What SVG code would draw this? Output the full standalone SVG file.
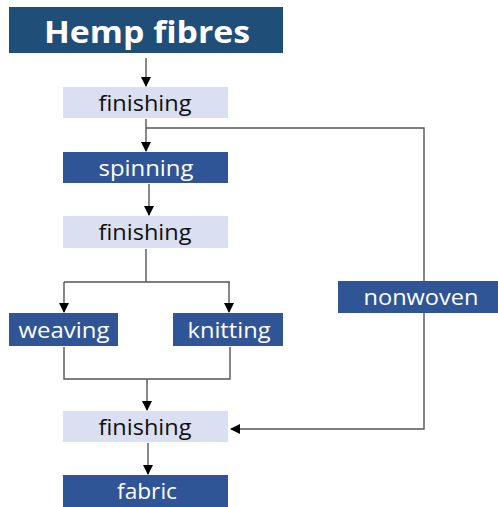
<svg xmlns="http://www.w3.org/2000/svg" width="498" height="507" viewBox="0 0 498 507">
<style>
.dark{fill:#2f5597}
.light{fill:#dae0f2}
.t{font-family:"Open Sans","Liberation Sans",sans-serif;font-size:21px;text-anchor:middle;dominant-baseline:central}
.tw{fill:#ffffff}
.tb{fill:#111111}
.c{fill:none;stroke:#555555;stroke-width:1.4}
</style>
<defs>
<marker id="ah" markerWidth="10" markerHeight="10" refX="9" refY="5" orient="auto" markerUnits="userSpaceOnUse">
<path d="M0,0 L10,5 L0,10 Z" fill="#000"/>
</marker>
</defs>
<rect width="498" height="507" fill="#ffffff"/>
<g id="connectors">
<path class="c" d="M146,58 V86" marker-end="url(#ah)"/>
<path class="c" d="M146,119 V151" marker-end="url(#ah)"/>
<path class="c" d="M146,128 H424 V429 H231" marker-end="url(#ah)"/>
<path class="c" d="M149,184 V215" marker-end="url(#ah)"/>
<path class="c" d="M146,249 V282"/>
<path class="c" d="M64,282 H230"/>
<path class="c" d="M64,282 V312" marker-end="url(#ah)"/>
<path class="c" d="M229,282 V312" marker-end="url(#ah)"/>
<path class="c" d="M64,347 V379 H230 V347"/>
<path class="c" d="M147,379 V410" marker-end="url(#ah)"/>
<path class="c" d="M148,443 V474" marker-end="url(#ah)"/>
</g>
<g id="hemp">
<rect x="9" y="7" width="274" height="46" fill="#1f4e79"/>
<text x="147" y="31" class="t tw" style="font-size:31px;font-weight:bold" textLength="206" lengthAdjust="spacingAndGlyphs">Hemp fibres</text>
</g>
<g id="finishing1">
<rect x="63" y="87" width="165" height="31" class="light"/>
<text x="145" y="103" class="t tb" textLength="93" lengthAdjust="spacingAndGlyphs">finishing</text>
</g>
<g id="spinning">
<rect x="63" y="152" width="165" height="31" class="dark"/>
<text x="146" y="168" class="t tw" textLength="95" lengthAdjust="spacingAndGlyphs">spinning</text>
</g>
<g id="finishing2">
<rect x="63" y="216" width="165" height="32" class="light"/>
<text x="145" y="232" class="t tb" textLength="93" lengthAdjust="spacingAndGlyphs">finishing</text>
</g>
<g id="weaving">
<rect x="9" y="313" width="109" height="33" class="dark"/>
<text x="64" y="330" class="t tw" textLength="91" lengthAdjust="spacingAndGlyphs">weaving</text>
</g>
<g id="knitting">
<rect x="173" y="313" width="110" height="33" class="dark"/>
<text x="229" y="330" class="t tw" textLength="83" lengthAdjust="spacingAndGlyphs">knitting</text>
</g>
<g id="nonwoven">
<rect x="338" y="281" width="160" height="32" class="dark"/>
<text x="421" y="297" class="t tw" textLength="115" lengthAdjust="spacingAndGlyphs">nonwoven</text>
</g>
<g id="finishing3">
<rect x="63" y="411" width="165" height="31" class="light"/>
<text x="145" y="427" class="t tb" textLength="93" lengthAdjust="spacingAndGlyphs">finishing</text>
</g>
<g id="fabric">
<rect x="63" y="475" width="165" height="32" class="dark"/>
<text x="147" y="491" class="t tw" textLength="60" lengthAdjust="spacingAndGlyphs">fabric</text>
</g>
</svg>
